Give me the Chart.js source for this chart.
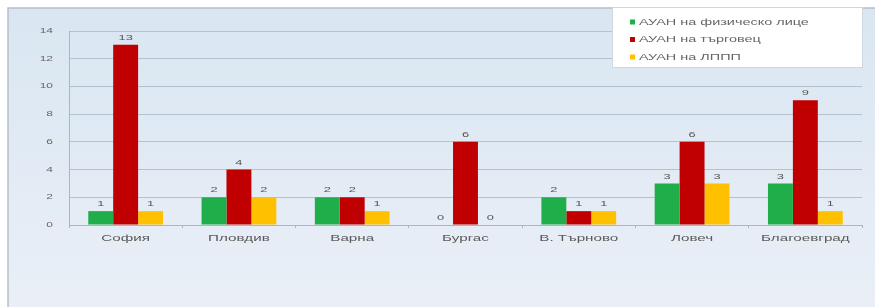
<!DOCTYPE html>
<html>
<head>
<meta charset="utf-8">
<script src="https://cdn.jsdelivr.net/npm/chart.js@4/dist/chart.umd.min.js"></script>
<style>
  html, body { margin: 0; padding: 0; background: #fff; }
  #wrap { width: 875px; height: 307px; }
</style>
</head>
<body>
<div id="wrap"><canvas id="grafica" width="875" height="307"></canvas></div>
<script>
// datos
const ciudades = ['София', 'Пловдив', 'Варна', 'Бургас', 'В. Търново', 'Ловеч', 'Благоевград'];
const fizicheskoLice = [1, 2, 2, 0, 2, 3, 3];
const targovec = [13, 4, 2, 6, 1, 6, 9];
const lppp = [1, 2, 1, 0, 1, 3, 1];
const etiquetasSerie = ['АУАН на физическо лице', 'АУАН на търговец', 'АУАН на ЛППП'];
const ticksY = [0, 2, 4, 6, 8, 10, 12, 14];

const colores = ['#1fae4a', '#c00000', '#ffc000'];
const FUENTE = '"Liberation Sans", Arial, sans-serif';

// texto estirado horizontalmente (la imagen original está estirada a lo ancho)
function textoAncho(ctx, t, x, y, align, estirar) {
    ctx.save();
    ctx.translate(x, y);
    ctx.scale(estirar || 1.6, 1);
    ctx.textAlign = align || 'center';
    ctx.fillText(t, 0, 0);
    ctx.restore();
}

// fondo con el marco azul claro
const fondoPlugin = {
    id: 'fondo',
    beforeDraw(chart) {
        const ctx = chart.ctx;
        const w = chart.width, h = chart.height;
        ctx.save();
        ctx.fillStyle = '#ffffff';
        ctx.fillRect(0, 0, w, h);
        const grad = ctx.createLinearGradient(0, 8, 0, h);
        grad.addColorStop(0, '#d9e6f1');
        grad.addColorStop(1, '#eaeff7');
        ctx.fillStyle = grad;
        ctx.fillRect(8, 8, w - 8, h - 8);
        ctx.strokeStyle = '#b4bfca';
        ctx.lineWidth = 1.5;
        ctx.beginPath();
        ctx.moveTo(8, h);
        ctx.lineTo(8, 8);
        ctx.lineTo(w, 8);
        ctx.stroke();
        ctx.restore();
    }
};

// etiquetas de ejes dibujadas a mano (estiradas)
const ejesPlugin = {
    id: 'ejesTexto',
    afterDraw(chart) {
        const ctx = chart.ctx;
        const sx = chart.scales.x, sy = chart.scales.y;
        ctx.save();
        ctx.fillStyle = '#5a5a5a';
        ctx.textBaseline = 'middle';
        ctx.font = '9.5px ' + FUENTE;
        chart.data.labels.forEach((lab, i) => {
            textoAncho(ctx, lab, sx.getPixelForTick(i), sy.bottom + 13, 'center');
        });
        ctx.fillStyle = '#666';
        ctx.font = '7.5px ' + FUENTE;
        ticksY.forEach(v => {
            textoAncho(ctx, String(v), 53, sy.getPixelForValue(v), 'right');
        });
        ctx.restore();
    }
};

// valores encima de cada barra
const valoresPlugin = {
    id: 'valores',
    afterDatasetsDraw(chart) {
        const ctx = chart.ctx;
        ctx.save();
        ctx.font = '8px ' + FUENTE;
        ctx.fillStyle = '#555';
        ctx.textBaseline = 'bottom';
        chart.data.datasets.forEach((ds, i) => {
            chart.getDatasetMeta(i).data.forEach((bar, j) => {
                textoAncho(ctx, String(ds.data[j]), bar.x, bar.y - 3, 'center');
            });
        });
        ctx.restore();
    }
};

// leyenda en recuadro blanco arriba a la derecha
const leyendaPlugin = {
    id: 'leyendaCaja',
    afterDraw(chart) {
        const ctx = chart.ctx;
        const x = 612, y = 7, w = 250, h = 60;
        ctx.save();
        ctx.fillStyle = '#ffffff';
        ctx.fillRect(x, y, w, h);
        ctx.strokeStyle = '#cfd8e0';
        ctx.lineWidth = 1;
        ctx.strokeRect(x + 0.5, y + 0.5, w, h);
        ctx.font = '9.5px ' + FUENTE;
        ctx.textBaseline = 'middle';
        chart.data.datasets.forEach((ds, i) => {
            const cy = y + 15 + i * 17.5;
            ctx.fillStyle = ds.backgroundColor;
            ctx.fillRect(x + 18, cy - 2.5, 5, 5);
            ctx.fillStyle = '#666';
            textoAncho(ctx, ds.label, x + 27, cy, 'left', 1.52);
        });
        ctx.restore();
    }
};

new Chart(document.getElementById('grafica'), {
    type: 'bar',
    data: {
        labels: ciudades,
        datasets: [
            { label: etiquetasSerie[0], data: fizicheskoLice, backgroundColor: colores[0] },
            { label: etiquetasSerie[1], data: targovec, backgroundColor: colores[1] },
            { label: etiquetasSerie[2], data: lppp, backgroundColor: colores[2] }
        ]
    },
    options: {
        responsive: false,
        animation: false,
        layout: { padding: { top: 31, right: 13, bottom: 62, left: 0 } },
        datasets: {
            bar: { categoryPercentage: 0.66, barPercentage: 1.0 }
        },
        plugins: {
            legend: { display: false },
            tooltip: { enabled: false }
        },
        scales: {
            x: {
                afterFit: s => { s.height = 20; },
                grid: {
                    display: true,
                    drawOnChartArea: false,
                    drawTicks: true,
                    tickLength: 3,
                    offset: true,
                    color: '#a9b5c0'
                },
                border: { display: true, color: '#a9b5c0' },
                ticks: { display: false }
            },
            y: {
                min: 0,
                max: 14,
                afterFit: s => { s.width = 69; },
                afterBuildTicks: s => { s.ticks = ticksY.map(v => ({ value: v })); },
                grid: {
                    color: ctx => ctx.tick && ctx.tick.value === 0 ? 'rgba(0,0,0,0)' : '#b3c2d1',
                    drawTicks: false
                },
                border: { display: true, color: '#aab6c2' },
                ticks: { display: false }
            }
        }
    },
    plugins: [fondoPlugin, valoresPlugin, ejesPlugin, leyendaPlugin]
});
</script>
</body>
</html>
